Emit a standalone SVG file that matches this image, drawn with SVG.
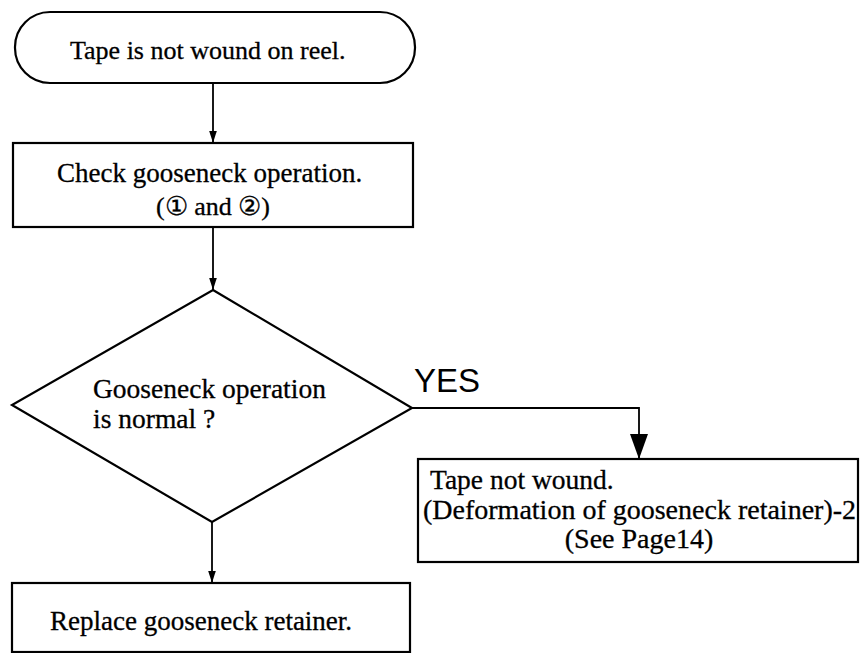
<svg xmlns="http://www.w3.org/2000/svg" width="860" height="653" viewBox="0 0 860 653">
<style>
  .shape { fill: #fff; stroke: #000; stroke-width: 2.2; }
  .t { font-family: "Liberation Serif", "Times New Roman", serif; fill: #000; stroke: #000; stroke-width: 0.3; }
  .yes { font-family: "Liberation Sans", Arial, sans-serif; fill: #000; }
  .conn { fill: none; stroke: #000; stroke-width: 1.8; }
</style>
<defs>
  <marker id="ahs" markerWidth="12" markerHeight="19" refX="19" refY="6" orient="auto" markerUnits="userSpaceOnUse" viewBox="0 0 19 12">
    <path d="M0,0 L19,6 L0,12 Z" fill="#000"/>
  </marker>
  <marker id="ahb" markerWidth="25" markerHeight="18" refX="25" refY="9" orient="auto" markerUnits="userSpaceOnUse" viewBox="0 0 25 18">
    <path d="M0,0 L25,9 L0,18 Z" fill="#000"/>
  </marker>
</defs>
<rect width="860" height="653" fill="#fff"/>
<g id="connectors">
  <line class="conn" x1="213" y1="83" x2="213" y2="143" marker-end="url(#ahs)"/>
  <line class="conn" x1="213" y1="227" x2="213" y2="290" marker-end="url(#ahs)"/>
  <line class="conn" x1="212" y1="522" x2="212" y2="583" marker-end="url(#ahs)"/>
  <polyline class="conn" points="412,408 639,408 639,459" marker-end="url(#ahb)"/>
  <text class="yes" x="414" y="392" font-size="33">YES</text>
</g>
<g id="start">
  <rect class="shape" x="15" y="12" width="400" height="71" rx="35" ry="35"/>
  <text class="t" x="70" y="59" font-size="26">Tape is not wound on reel.</text>
</g>
<g id="check">
  <rect class="shape" x="13" y="143" width="400" height="84"/>
  <text class="t" x="57" y="182" font-size="27">Check gooseneck operation.</text>
  <text class="t" x="213" y="215" font-size="26" text-anchor="middle">(① and ②)</text>
</g>
<g id="decision">
  <polygon class="shape" points="213,290 412,408 212,522 12,405"/>
  <text class="t" x="93" y="398" font-size="27.5">Gooseneck operation</text>
  <text class="t" x="93" y="428" font-size="27.5">is normal ?</text>
</g>
<g id="notwound">
  <rect class="shape" x="418" y="459" width="440" height="103"/>
  <text class="t" x="430" y="489" font-size="27.5">Tape not wound.</text>
  <text class="t" x="423" y="519" font-size="28">(Deformation of gooseneck retainer)-2</text>
  <text class="t" x="639" y="548" font-size="28" text-anchor="middle">(See Page14)</text>
</g>
<g id="replace">
  <rect class="shape" x="12" y="583" width="398" height="69"/>
  <text class="t" x="50" y="630" font-size="27">Replace gooseneck retainer.</text>
</g>
</svg>
